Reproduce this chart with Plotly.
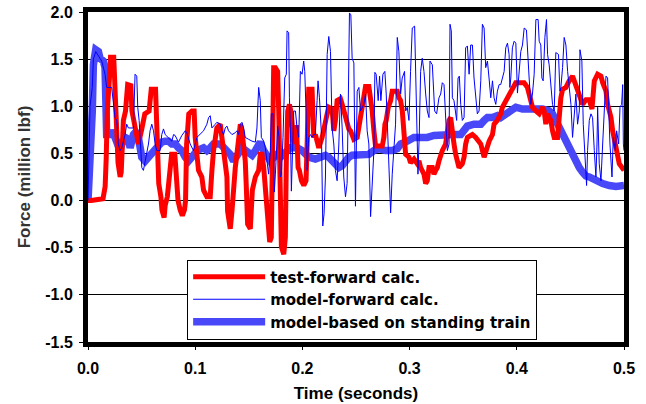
import plotly.graph_objects as go

# ---------------- data (time in s, force in million lbf) ----------------
test_t = [0.000, 0.003, 0.014, 0.016, 0.017, 0.018, 0.020, 0.021, 0.024, 0.025, 0.027, 0.028, 0.030, 0.031,
          0.033, 0.035, 0.037, 0.040, 0.041, 0.044, 0.047, 0.050, 0.053, 0.057, 0.059, 0.063, 0.064, 0.065,
          0.066, 0.068, 0.069, 0.071, 0.072, 0.074, 0.075, 0.077, 0.078, 0.081, 0.082, 0.084, 0.086, 0.088,
          0.090, 0.091, 0.092, 0.094, 0.097, 0.099, 0.1000, 0.1016, 0.1031, 0.1062, 0.1078, 0.1109, 0.1140,
          0.1156, 0.1171, 0.1202, 0.1234, 0.1249, 0.1265, 0.1280, 0.1296, 0.1302, 0.1312, 0.1327, 0.1343,
          0.1352, 0.1374, 0.1389, 0.1405, 0.1421, 0.1436, 0.1452, 0.1467, 0.1477, 0.1489, 0.1514, 0.1523,
          0.1533, 0.1561, 0.1592, 0.1607, 0.1623, 0.1639, 0.1654, 0.1670, 0.1679, 0.1695, 0.1710, 0.1723,
          0.1732, 0.1748, 0.1769, 0.1779, 0.1788, 0.1794, 0.1804, 0.1826, 0.1841, 0.1850, 0.1863, 0.1879,
          0.1897, 0.1919, 0.1944, 0.1960, 0.1972, 0.1991, 0.2013, 0.2034, 0.2044, 0.2059, 0.2090, 0.2097,
          0.2106, 0.2121, 0.2137, 0.2153, 0.2184, 0.2199, 0.2215, 0.2231, 0.2246, 0.2277, 0.2293, 0.2308,
          0.2324, 0.2355, 0.2371, 0.2386, 0.2402, 0.2417, 0.2433, 0.2449, 0.2480, 0.2511, 0.2526, 0.2542,
          0.2558, 0.2573, 0.2589, 0.2620, 0.2636, 0.2651, 0.2667, 0.2682, 0.2745, 0.2760, 0.2770, 0.2782,
          0.2801, 0.2823, 0.2838, 0.2885, 0.2901, 0.2916, 0.2932, 0.2947, 0.2963, 0.2994, 0.3009, 0.3041,
          0.3072, 0.3087, 0.3103, 0.3134, 0.3150, 0.3165, 0.3181, 0.3212, 0.3227, 0.3243, 0.3259, 0.3274,
          0.3290, 0.3305, 0.3336, 0.3352, 0.3368, 0.3383, 0.3399, 0.3414, 0.3430, 0.3445, 0.3461, 0.3492,
          0.3508, 0.3523, 0.3539, 0.3570, 0.3586, 0.3617, 0.3664, 0.3695, 0.3726, 0.3742, 0.3773, 0.3788,
          0.3819, 0.3850, 0.3866, 0.3897, 0.3913, 0.3928, 0.3959, 0.3990, 0.4068, 0.4099, 0.4115, 0.4131,
          0.4146, 0.4178, 0.4209, 0.4240, 0.4255, 0.4271, 0.4287, 0.4302, 0.4318, 0.4333, 0.4349, 0.4380,
          0.4396, 0.4411, 0.4427, 0.4458, 0.4489, 0.4520, 0.4536, 0.4567, 0.4598, 0.4614, 0.4645, 0.4676,
          0.4701, 0.4723, 0.4754, 0.4785, 0.4801, 0.4832, 0.4847, 0.4879, 0.4894, 0.4925, 0.4956, 0.5000]
test_v = [0.00, 0.00, 0.02, 0.15, 0.45, 0.95, 1.30, 1.52, 1.52, 1.20, 0.60, 0.40, 0.25, 0.30,
          0.85, 0.95, 1.23, 1.22, 0.95, 0.77, 0.60, 0.75, 0.92, 0.95, 1.18, 1.18, 0.88, 0.49,
          0.18, 0.04, -0.10, -0.18, -0.05, 0.04, 0.18, 0.35, 0.49, 0.49, 0.30, 0.00, -0.10, -0.16,
          -0.10, 0.00, 0.60, 0.92, 0.95, 0.95, 0.67, 0.46, 0.32, 0.25, 0.11, 0.04, 0.04,
          0.32, 0.53, 0.77, 0.81, 0.67, 0.53, 0.39, 0.25, -0.11, -0.25, -0.30, -0.11,
          0.09, 0.35, 0.49, 0.67, 0.81, 0.74, 0.60, 0.42, 0.14, -0.25, -0.30, 0.04,
          0.11, 0.25, 0.32, 0.49, 0.49, 0.35, 0.11, -0.04, -0.28, -0.44, -0.39, 0.46,
          1.41, 1.41, 1.37, 0.95, 0.35, -0.18, -0.49, -0.57, -0.39, 0.42, 0.95, 1.02,
          0.92, 0.60, 0.80, 0.35, 0.32, 0.21, 0.16, 0.21, 0.85, 1.18, 1.18, 0.77,
          0.67, 0.70, 0.60, 0.56, 0.67, 0.77, 0.85, 0.92, 0.99, 0.97, 0.74, 0.85,
          1.06, 1.08, 1.02, 0.95, 0.85, 0.81, 0.76, 0.74, 0.65, 0.67, 0.77, 0.88,
          0.99, 1.09, 1.21, 1.21, 1.09, 0.95, 0.74, 0.58, 0.58, 0.67, 0.81, 0.85,
          0.99, 1.06, 1.16, 1.16, 1.09, 1.06, 0.95, 0.67, 0.49, 0.46, 0.40, 0.44,
          0.39, 0.42, 0.35, 0.28, 0.18, 0.21, 0.35, 0.35, 0.28, 0.32, 0.35, 0.42,
          0.49, 0.53, 0.60, 0.74, 0.85, 0.88, 0.70, 0.60, 0.49, 0.39, 0.35, 0.39,
          0.46, 0.60, 0.67, 0.69, 0.70, 0.67, 0.60, 0.46, 0.60, 0.63, 0.70, 0.81,
          0.85, 0.92, 0.99, 1.06, 1.09, 1.11, 1.18, 1.25, 1.25, 1.20, 1.13, 1.06,
          0.99, 0.95, 0.92, 0.99, 0.95, 0.81, 0.92, 0.88, 0.85, 0.74, 0.67, 0.67,
          0.95, 1.09, 1.18, 1.20, 1.27, 1.32, 1.27, 1.18, 1.09, 1.02, 1.07, 1.07,
          0.97, 1.27, 1.34, 1.32, 1.25, 1.16, 1.02, 0.88, 0.74, 0.53, 0.39, 0.32]

fwd_t = [0.0000, 0.0009, 0.0019, 0.0040, 0.0050, 0.0072, 0.0112, 0.0128, 0.0159, 0.0174, 0.0221, 0.0237,
         0.0252, 0.0268, 0.0283, 0.0299, 0.0315, 0.0346, 0.0361, 0.0377, 0.0424, 0.0439, 0.0455, 0.0464,
         0.0477, 0.0486, 0.0502, 0.0517, 0.0533, 0.0564, 0.0579, 0.0595, 0.0611, 0.0626, 0.0642, 0.0673,
         0.0688, 0.0704, 0.0720, 0.0751, 0.0782, 0.0798, 0.0813, 0.0844, 0.0875, 0.0907, 0.0922, 0.0953,
         0.0969, 0.0984, 0.1016, 0.1078, 0.1109, 0.1125, 0.1140, 0.1156, 0.1187, 0.1202, 0.1234, 0.1249,
         0.1265, 0.1280, 0.1296, 0.1311, 0.1343, 0.1374, 0.1389, 0.1405, 0.1421, 0.1436, 0.1452, 0.1467,
         0.1498, 0.1530, 0.1561, 0.1576, 0.1592, 0.1607, 0.1617, 0.1639, 0.1654, 0.1670, 0.1685, 0.1701,
         0.1710, 0.1726, 0.1738, 0.1748, 0.1757, 0.1769, 0.1782, 0.1794, 0.1804, 0.1819, 0.1835, 0.1850,
         0.1857, 0.1872, 0.1879, 0.1888, 0.1897, 0.1907, 0.1919, 0.1935, 0.1950, 0.1966, 0.1981, 0.1997,
         0.2012, 0.2022, 0.2034, 0.2044, 0.2059, 0.2075, 0.2090, 0.2106, 0.2121, 0.2137, 0.2146, 0.2159,
         0.2178, 0.2190, 0.2202, 0.2215, 0.2221, 0.2231, 0.2246, 0.2262, 0.2277, 0.2293, 0.2308, 0.2324,
         0.2340, 0.2355, 0.2371, 0.2386, 0.2402, 0.2417, 0.2427, 0.2439, 0.2452, 0.2464, 0.2480, 0.2489,
         0.2495, 0.2502, 0.2511, 0.2527, 0.2542, 0.2573, 0.2589, 0.2604, 0.2620, 0.2636, 0.2651, 0.2667,
         0.2676, 0.2688, 0.2707, 0.2720, 0.2732, 0.2751, 0.2769, 0.2782, 0.2794, 0.2807, 0.2823, 0.2838,
         0.2854, 0.2869, 0.2885, 0.2900, 0.2916, 0.2931, 0.2953, 0.2963, 0.2978, 0.2994, 0.3009, 0.3025,
         0.3047, 0.3056, 0.3072, 0.3078, 0.3090, 0.3103, 0.3118, 0.3134, 0.3150, 0.3165, 0.3181, 0.3190,
         0.3212, 0.3221, 0.3234, 0.3252, 0.3274, 0.3290, 0.3305, 0.3321, 0.3336, 0.3352, 0.3368, 0.3377,
         0.3389, 0.3399, 0.3414, 0.3430, 0.3439, 0.3452, 0.3464, 0.3477, 0.3492, 0.3508, 0.3523, 0.3539,
         0.3555, 0.3570, 0.3586, 0.3601, 0.3617, 0.3632, 0.3648, 0.3664, 0.3679, 0.3695, 0.3710, 0.3726,
         0.3741, 0.3757, 0.3773, 0.3788, 0.3804, 0.3819, 0.3835, 0.3850, 0.3866, 0.3882, 0.3897, 0.3913,
         0.3928, 0.3935, 0.3944, 0.3959, 0.3975, 0.3991, 0.4006, 0.4022, 0.4037, 0.4053, 0.4069, 0.4090,
         0.4100, 0.4115, 0.4131, 0.4146, 0.4162, 0.4178, 0.4199, 0.4209, 0.4224, 0.4234, 0.4246, 0.4262,
         0.4277, 0.4287, 0.4302, 0.4318, 0.4333, 0.4349, 0.4364, 0.4389, 0.4402, 0.4411, 0.4427, 0.4442,
         0.4458, 0.4474, 0.4489, 0.4505, 0.4520, 0.4536, 0.4551, 0.4567, 0.4583, 0.4589, 0.4607, 0.4620,
         0.4636, 0.4651, 0.4660, 0.4676, 0.4692, 0.4707, 0.4723, 0.4738, 0.4748, 0.4754, 0.4769, 0.4785,
         0.4801, 0.4816, 0.4832, 0.4847, 0.4857, 0.4869, 0.4888, 0.4900, 0.4919, 0.4931, 0.4950, 0.4963,
         0.4978, 0.4988, 0.4994, 0.5000]
fwd_v = [0.00, 0.50, 1.00, 1.20, 1.50, 1.58, 1.50, 1.48, 1.34, 1.20, 1.20, 0.99,
         0.88, 0.85, 0.60, 0.53, 0.56, 0.70, 0.81, 0.77, 0.77, 1.34, 1.32, 0.99,
         0.85, 0.67, 0.35, 0.32, 0.42, 0.60, 0.74, 0.81, 0.74, 0.60, 0.53, 0.53,
         0.70, 0.76, 0.70, 0.67, 0.63, 0.70, 0.69, 0.62, 0.69, 0.74, 0.72, 0.60,
         0.56, 0.53, 0.67, 0.74, 0.81, 0.88, 0.90, 0.77, 0.81, 0.83, 0.81, 0.74,
         0.70, 0.77, 0.79, 0.74, 0.70, 0.72, 0.74, 0.70, 0.81, 0.83, 0.77, 0.67,
         0.65, 0.63, 0.62, 0.77, 1.20, 1.06, 0.67, 0.63, 0.56, 0.39, 0.28, 0.53,
         0.92, 0.92, 0.09, 0.28, 0.53, 0.79, 0.67, 0.25, 0.28, 0.67, 1.30, 1.34,
         1.80, 1.78, 1.09, 0.77, 0.10, 0.60, 0.95, 0.95, 0.77, 0.67, 1.37, 1.34,
         1.48, 1.37, 0.95, 0.32, 0.67, 0.70, 0.67, 0.70, 0.70, 1.06, 1.27, 1.09,
         0.70, -0.27, -0.14, 0.25, 0.60, 1.55, 1.74, 1.58, 0.77, 0.60, 0.32, 0.21,
         0.60, 1.13, 0.77, 0.25, 0.04, 0.18, 0.95, 1.99, 1.97, 1.51, 1.46, 0.60,
         -0.06, 0.46, 1.16, 1.20, 0.95, 1.02, 1.13, 0.74, 0.60, -0.17, 0.25, 0.53,
         1.36, 1.34, 1.06, 1.32, 1.06, 1.34, 1.37, 1.13, 0.77, 0.39, -0.13, 0.28,
         0.60, 0.81, 1.73, 1.58, 1.13, 1.30, 1.37, 0.95, 0.99, 0.85, 1.37, 1.83,
         1.85, 1.37, 0.67, 0.28, 0.70, 1.37, 1.51, 1.37, 1.13, 0.95, 0.88, 1.48,
         1.44, 1.16, 0.95, 0.92, 1.09, 1.13, 1.25, 1.23, 0.88, 0.53, 0.60, 1.87,
         1.80, 1.09, 1.06, 0.95, 0.85, 1.30, 1.32, 1.02, 0.85, 0.88, 1.62, 1.64,
         1.34, 1.65, 1.65, 1.30, 1.06, 0.92, 0.95, 1.27, 1.87, 1.83, 1.41, 1.48,
         1.30, 1.09, 1.27, 1.09, 1.02, 1.16, 1.23, 1.23, 1.30, 1.37, 1.62, 1.67,
         1.55, 1.20, 1.30, 1.62, 1.69, 1.67, 1.14, 1.34, 1.58, 1.65, 1.83, 1.81,
         1.65, 1.30, 1.02, 1.13, 1.34, 1.92, 1.92, 1.69, 1.65, 1.30, 1.27, 1.73,
         1.92, 1.55, 1.44, 1.16, 1.02, 0.95, 1.57, 1.55, 1.16, 1.20, 1.41, 1.73,
         1.65, 1.37, 1.23, 1.02, 0.67, 0.95, 1.13, 0.81, 0.95, 1.60, 1.48, 0.81,
         0.53, 0.16, 0.53, 0.85, 0.92, 0.88, 0.53, 0.25, 0.60, 0.99, 0.39, 0.21,
         0.60, 0.95, 1.32, 1.30, 0.85, 0.60, 0.25, 0.67, 0.53, 0.74, 0.60, 0.99,
         1.02, 1.23, 0.60, 0.53]

stand_t = [0.0000, 0.0009, 0.0019, 0.0040, 0.0050, 0.0072, 0.0097, 0.0112, 0.0143, 0.0159, 0.0165, 0.0174,
           0.0206, 0.0221, 0.0252, 0.0283, 0.0299, 0.0315, 0.0346, 0.0377, 0.0393, 0.0424, 0.0455, 0.0470,
           0.0486, 0.0502, 0.0533, 0.0564, 0.0595, 0.0626, 0.0657, 0.0688, 0.0720, 0.0751, 0.0782, 0.0813,
           0.0844, 0.0875, 0.0907, 0.0938, 0.0969, 0.1000, 0.1016, 0.1078, 0.1109, 0.1140, 0.1171, 0.1234,
           0.1265, 0.1296, 0.1327, 0.1358, 0.1389, 0.1421, 0.1436, 0.1467, 0.1530, 0.1561, 0.1592, 0.1607,
           0.1639, 0.1670, 0.1701, 0.1732, 0.1763, 0.1794, 0.1826, 0.1857, 0.1888, 0.1950, 0.1997, 0.2059,
           0.2121, 0.2168, 0.2215, 0.2246, 0.2277, 0.2308, 0.2340, 0.2371, 0.2402, 0.2433, 0.2464, 0.2527,
           0.2589, 0.2620, 0.2667, 0.2714, 0.2776, 0.2838, 0.2885, 0.2916, 0.2978, 0.3040, 0.3103, 0.3165,
           0.3227, 0.3290, 0.3352, 0.3414, 0.3477, 0.3508, 0.3539, 0.3601, 0.3664, 0.3695, 0.3726, 0.3773,
           0.3819, 0.3850, 0.3897, 0.3944, 0.3991, 0.4053, 0.4146, 0.4240, 0.4302, 0.4333, 0.4364, 0.4396,
           0.4427, 0.4458, 0.4489, 0.4520, 0.4551, 0.4583, 0.4614, 0.4645, 0.4676, 0.4707, 0.4754, 0.4801,
           0.4863, 0.4925, 0.5000]
stand_v = [0.00, 0.18, 0.56, 0.95, 1.44, 1.60, 1.58, 1.51, 1.48, 1.41, 1.13, 0.70,
           0.70, 0.74, 0.67, 0.60, 0.53, 0.60, 0.67, 0.65, 0.56, 0.70, 0.74, 0.67,
           0.53, 0.46, 0.42, 0.46, 0.49, 0.53, 0.56, 0.62, 0.63, 0.63, 0.60, 0.60,
           0.56, 0.53, 0.46, 0.42, 0.46, 0.51, 0.53, 0.56, 0.53, 0.56, 0.60, 0.60,
           0.56, 0.55, 0.49, 0.42, 0.46, 0.53, 0.56, 0.53, 0.48, 0.53, 0.60, 0.62,
           0.53, 0.46, 0.42, 0.46, 0.49, 0.46, 0.49, 0.53, 0.56, 0.56, 0.53, 0.46,
           0.44, 0.46, 0.48, 0.46, 0.42, 0.39, 0.35, 0.37, 0.42, 0.46, 0.48, 0.48,
           0.48, 0.49, 0.53, 0.55, 0.53, 0.53, 0.55, 0.60, 0.63, 0.67, 0.67, 0.67,
           0.69, 0.70, 0.70, 0.70, 0.70, 0.74, 0.79, 0.81, 0.81, 0.85, 0.88, 0.88,
           0.90, 0.88, 0.92, 0.97, 0.99, 0.97, 0.97, 0.97, 0.95, 0.92, 0.85, 0.77,
           0.70, 0.63, 0.56, 0.49, 0.42, 0.35, 0.30, 0.26, 0.25, 0.23, 0.19, 0.18,
           0.16, 0.15, 0.16]

x_ticks = [0.0, 0.1, 0.2, 0.3, 0.4, 0.5]
x_labels = ["0.0", "0.1", "0.2", "0.3", "0.4", "0.5"]
y_ticks = [-1.5, -1.0, -0.5, 0.0, 0.5, 1.0, 1.5, 2.0]
y_labels = ["-1.5", "-1.0", "-0.5", "0.0", "0.5", "1.0", "1.5", "2.0"]

series_names = ["test-forward calc.", "model-forward calc.", "model-based on standing train"]

FONT = "Liberation Sans, Arial, sans-serif"
LEGEND_FONT = "DejaVu Sans, Liberation Sans, sans-serif"

fig = go.Figure()
fig.add_trace(go.Scatter(x=stand_t, y=stand_v, mode="lines", name=series_names[2], legendrank=3,
                         line=dict(color="#4848f8", width=7.5)))
fig.add_trace(go.Scatter(x=test_t, y=test_v, mode="lines", name=series_names[0], legendrank=1,
                         line=dict(color="#ff0000", width=5)))
fig.add_trace(go.Scatter(x=fwd_t, y=fwd_v, mode="lines", name=series_names[1], legendrank=2,
                         line=dict(color="#0000ff", width=1)))

fig.update_layout(
    width=646, height=404,
    margin=dict(l=88, r=22, t=12, b=62),
    paper_bgcolor="white", plot_bgcolor="white",
    font=dict(family=FONT, color="black", size=16, weight="bold"),
    showlegend=True,
    legend=dict(x=0.185, y=0.25, xanchor="left", yanchor="top",
                bgcolor="white", bordercolor="black", borderwidth=1,
                font=dict(family=LEGEND_FONT, size=15, weight="bold", color="black"),
                itemwidth=72, tracegroupgap=0, traceorder="normal"),
    xaxis=dict(range=[0, 0.5], tickvals=x_ticks, ticktext=x_labels, automargin=False,
               ticks="outside", ticklen=3, tickwidth=1, tickcolor="black",
               showline=True, linewidth=5, linecolor="black", mirror=True,
               showgrid=False, zeroline=False, ticklabelstandoff=5,
               tickfont=dict(family=FONT, size=16, weight="bold"),
               title=dict(text="Time (seconds)", standoff=12,
                          font=dict(family=FONT, size=17, weight="bold"))),
    yaxis=dict(range=[-1.5, 2.0], tickvals=y_ticks, ticktext=y_labels, automargin=False,
               ticks="outside", ticklen=4, tickwidth=1, tickcolor="black",
               showline=True, linewidth=5, linecolor="black", mirror=True,
               showgrid=True, gridcolor="black", gridwidth=1, zeroline=False,
               ticklabelstandoff=3,
               tickfont=dict(family=FONT, size=16, weight="bold"),
               title=dict(text="Force (million lbf)", standoff=12,
                          font=dict(family=FONT, size=17, weight="bold", color="#333333"))),
)

# remove the default 8px page margin so the figure sits at the window's top-left corner
fig.write_html("out.html", config={"displayModeBar": False},
               post_script="document.body.style.margin='0px';")
